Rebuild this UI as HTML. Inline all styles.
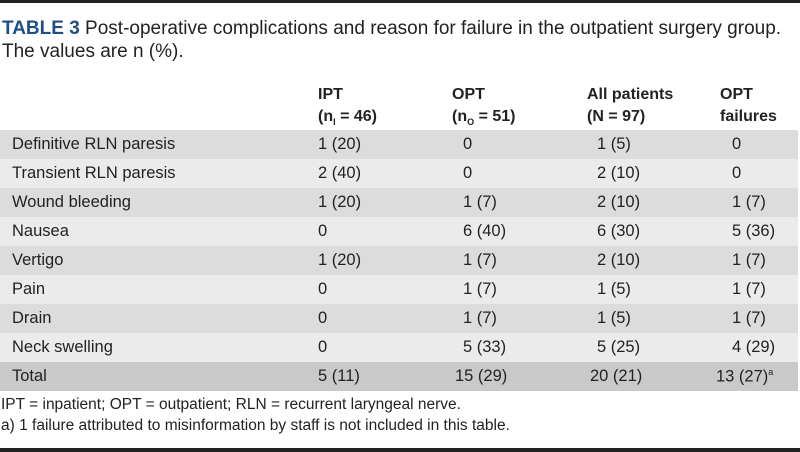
<!DOCTYPE html>
<html><head><meta charset="utf-8"><style>
body{margin:0;width:800px;height:452px;background:#fff;font-family:"Liberation Sans",sans-serif;color:#222;position:relative;overflow:hidden}
.t{position:absolute;white-space:nowrap}
.row{position:absolute;left:0;width:798px;height:29px}
.c{position:absolute;top:5px;font-size:16.5px;white-space:nowrap}
.h{position:absolute;font-size:16px;font-weight:bold;white-space:nowrap}
</style></head><body>
<div style="position:absolute;left:0;top:0;width:800px;height:3px;background:#222"></div>
<div class="t" style="left:2px;top:17px;font-size:19px;line-height:23px">
<span style="color:#1f4e86;font-weight:bold">TABLE 3</span> Post-operative complications and reason for failure in the outpatient surgery group.<br>The values are n (%).</div>
<div class="h" style="left:318px;top:86px">IPT</div>
<div class="h" style="left:318px;top:108px">(n<sub style="font-size:9px">I</sub> = 46)</div>
<div class="h" style="left:452px;top:86px">OPT</div>
<div class="h" style="left:452px;top:108px">(n<sub style="font-size:9px">O</sub> = 51)</div>
<div class="h" style="left:587px;top:86px">All patients</div>
<div class="h" style="left:587px;top:108px">(N = 97)</div>
<div class="h" style="left:720px;top:86px">OPT</div>
<div class="h" style="left:720px;top:108px">failures</div>
<div id="rows"></div>
<script>
var d=[["Definitive RLN paresis","1 (20)","0","1 (5)","0"],["Transient RLN paresis","2 (40)","0","2 (10)","0"],["Wound bleeding","1 (20)","1 (7)","2 (10)","1 (7)"],["Nausea","0","6 (40)","6 (30)","5 (36)"],["Vertigo","1 (20)","1 (7)","2 (10)","1 (7)"],["Pain","0","1 (7)","1 (5)","1 (7)"],["Drain","0","1 (7)","1 (5)","1 (7)"],["Neck swelling","0","5 (33)","5 (25)","4 (29)"],["Total","5 (11)","15 (29)","20 (21)","13 (27)<sup style='font-size:9px'>a</sup>"]];
var xs=[12,318,463,597,732],xt=[12,318,455,590,716],h="";
d.forEach(function(r,i){var bg=i==8?"#c9c9c9":(i%2?"#ebebeb":"#dcdcdc");
h+='<div class="row" style="top:'+(130+i*29)+'px;background:'+bg+'">';
r.forEach(function(v,j){h+='<div class="c" style="left:'+(i==8?xt[j]:xs[j])+'px">'+v+'</div>'});h+='</div>';});
document.getElementById("rows").innerHTML=h;
</script>
<div class="t" style="left:1px;top:396px;font-size:15.5px">IPT = inpatient; OPT = outpatient; RLN = recurrent laryngeal nerve.</div>
<div class="t" style="left:1px;top:417px;font-size:15.5px">a) 1 failure attributed to misinformation by staff is not included in this table.</div>
<div style="position:absolute;left:0;top:448px;width:800px;height:4px;background:#222"></div>
</body></html>
